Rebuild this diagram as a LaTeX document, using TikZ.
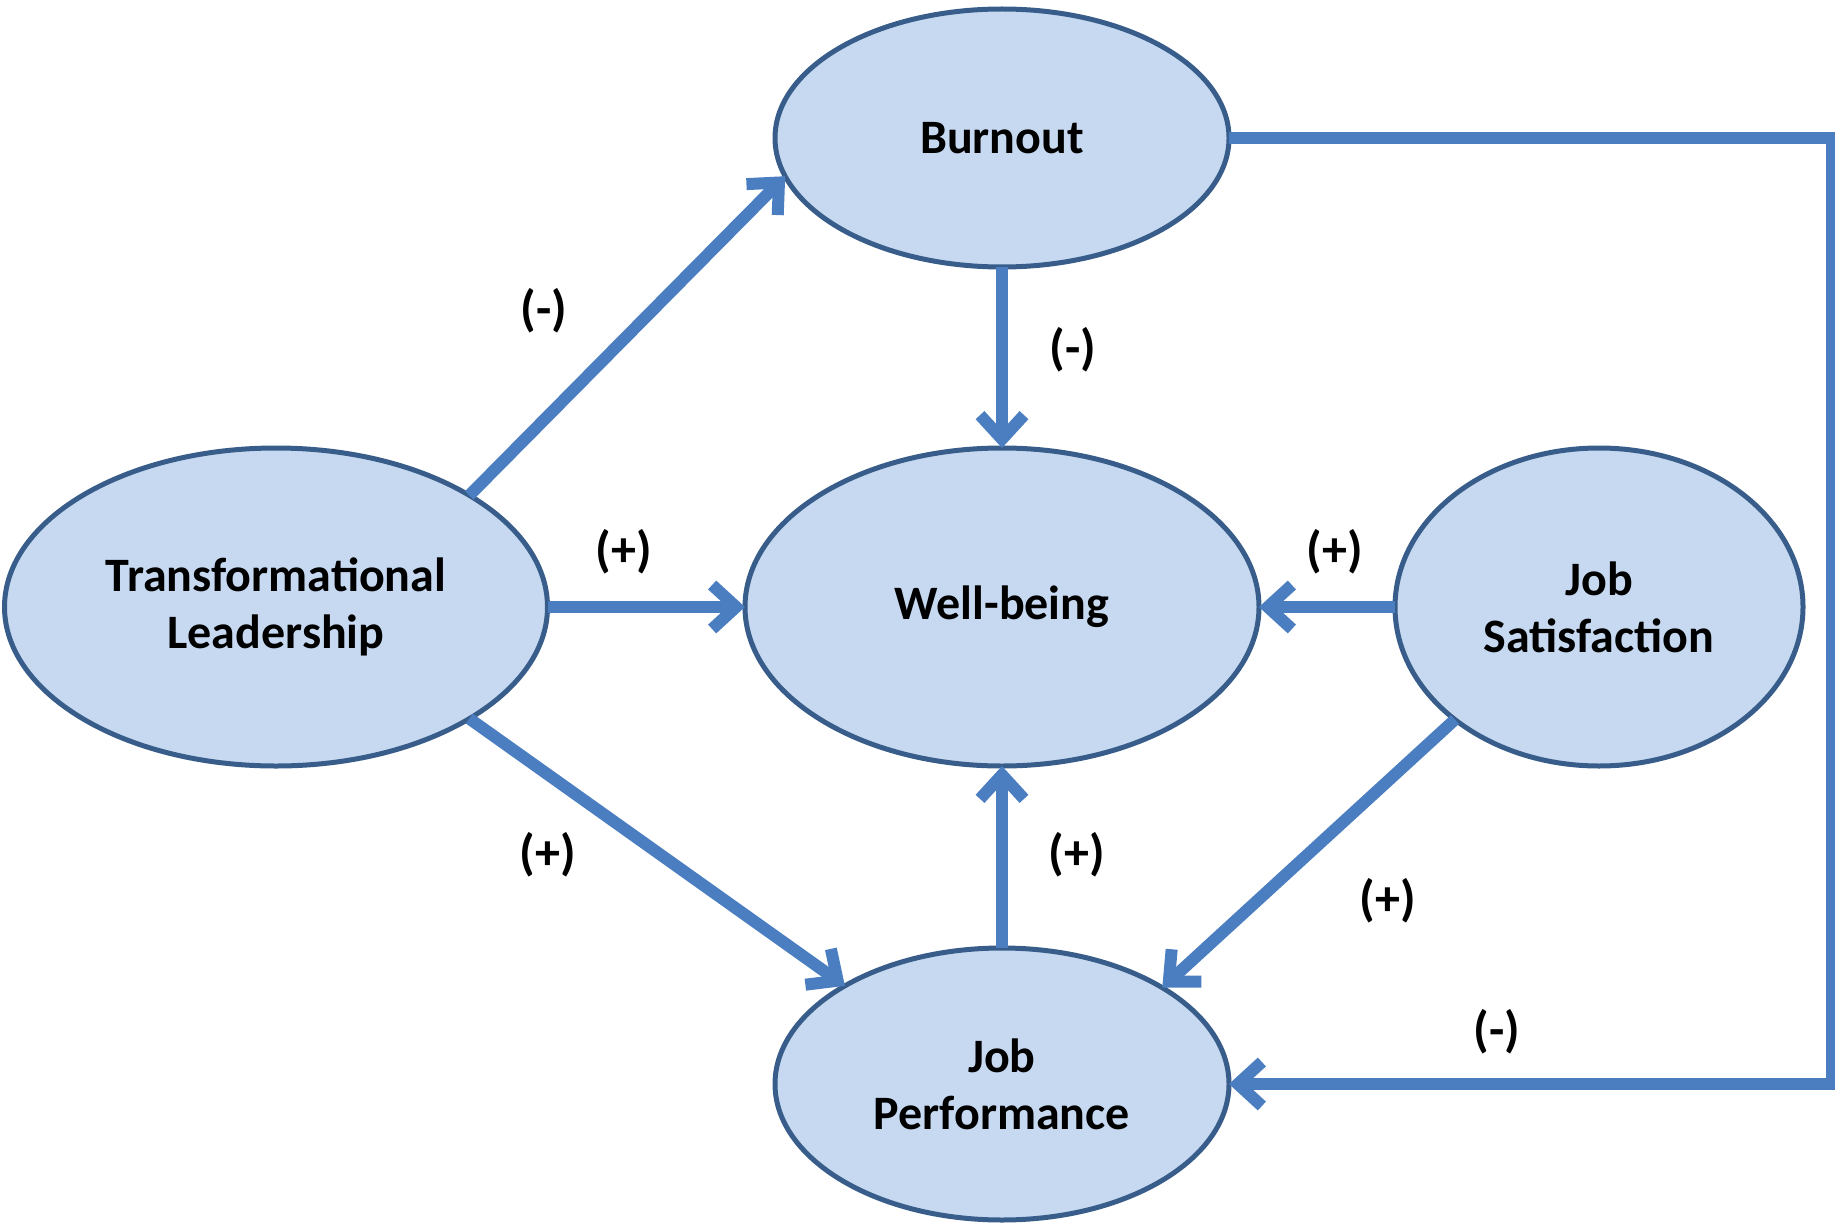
\documentclass[tikz,border=0pt]{standalone}
\usepackage{fontspec}
\setmainfont{Carlito}
\usetikzlibrary{arrows.meta,shapes.geometric}
\definecolor{fillblue}{RGB}{198,217,241}
\definecolor{edgeblue}{RGB}{56,93,138}
\definecolor{arrowblue}{RGB}{74,126,193}
\begin{document}
\begin{tikzpicture}[x=0.5pt, y=-0.5pt,
    construct/.style={ellipse, draw=edgeblue, fill=fillblue, line width=2.5pt,
        inner sep=0pt, outer sep=0pt, align=center,
        font=\fontsize{24}{28.5}\selectfont\bfseries},
    link/.style={draw=arrowblue, line width=6pt,
        -{Straight Barb[length=12pt,width=22pt,line width=6pt]}},
    sign/.style={font=\fontsize{25}{28}\selectfont\bfseries}]
        \useasboundingbox (0,0) rectangle (1835,1225);
        % constructs
        \node[construct, minimum width=227pt, minimum height=129pt] (bo) at (1002,138) {Burnout};
        \node[construct, minimum width=257pt, minimum height=159pt] (wb) at (1002,607) {Well-being};
        \node[construct, minimum width=271.5pt, minimum height=159pt] (tl) at (276,607) {Transformational\\Leadership};
        \node[construct, minimum width=204pt, minimum height=159pt] (js) at (1599,607) {Job\\Satisfaction};
        \node[construct, minimum width=227pt, minimum height=136pt] (jp) at (1002,1084) {Job\\Performance};
        \coordinate (rt) at (1832,600);
        % links
        \draw[link] (tl.30.5) -- (bo.190.8);
        \draw[link] (tl.east) -- (wb.west);
        \draw[link] (tl.-30.9) -- (jp.148.7);
        \draw[link] (bo.south) -- (wb.north);
        \draw[link] (js.west) -- (wb.east);
        \draw[link] (jp.north) -- (wb.south);
        \draw[link] (js.218.6) -- (jp.31.5);
        \draw[link] (bo.east) -| (rt) |- (jp.east);
        % signs
        \node[sign] (s1) at (544,311) {(-)};
        \node[sign] (s2) at (1073,350) {(-)};
        \node[sign] (s3) at (624,552) {(+)};
        \node[sign] (s4) at (1335,552) {(+)};
        \node[sign] (s5) at (548,855) {(+)};
        \node[sign] (s6) at (1077,855) {(+)};
        \node[sign] (s7) at (1388,901) {(+)};
        \node[sign] (s8) at (1497,1032) {(-)};
    \end{tikzpicture}
\end{document}
